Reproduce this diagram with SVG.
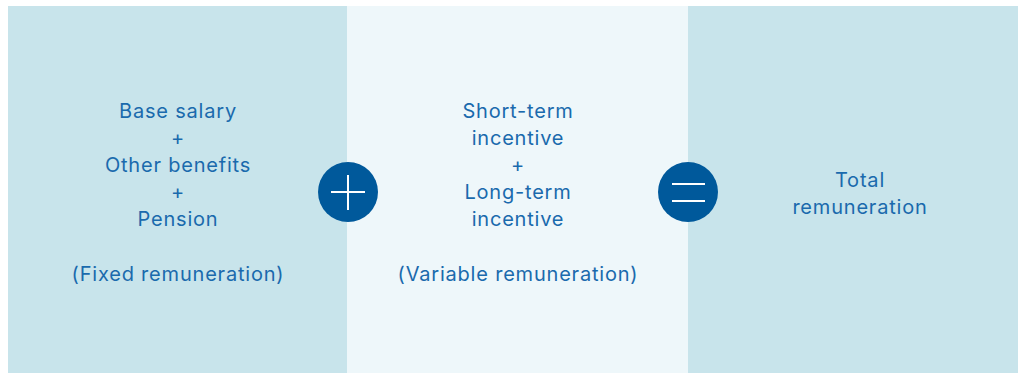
<svg xmlns="http://www.w3.org/2000/svg" width="1018" height="373" viewBox="0 0 1018 373">
<style>
.t{font-family:Inter,"Liberation Sans",sans-serif;font-size:20px;letter-spacing:0.8px;fill:#1a6aad;text-anchor:middle}
.sym{stroke:#ffffff;stroke-width:2;fill:none}
</style>
<rect width="1018" height="373" fill="#ffffff"/>
<g id="fixed">
<rect x="8" y="6" width="339" height="367" fill="#c8e4eb"/>
<text class="t" x="178" y="118">Base salary</text>
<text class="t" x="178" y="145">+</text>
<text class="t" x="178" y="172">Other benefits</text>
<text class="t" x="178" y="199">+</text>
<text class="t" x="178" y="226">Pension</text>
<text class="t" x="178" y="281">(Fixed remuneration)</text>
</g>
<g id="variable">
<rect x="347" y="6" width="341" height="367" fill="#eef7fa"/>
<text class="t" x="518" y="118">Short-term</text>
<text class="t" x="518" y="145">incentive</text>
<text class="t" x="518" y="172">+</text>
<text class="t" x="518" y="199">Long-term</text>
<text class="t" x="518" y="226">incentive</text>
<text class="t" x="518" y="281">(Variable remuneration)</text>
</g>
<g id="total">
<rect x="688" y="6" width="330" height="367" fill="#c8e4eb"/>
<text class="t" x="860" y="187">Total</text>
<text class="t" x="860" y="214">remuneration</text>
</g>
<g id="plus">
<circle cx="348" cy="192" r="30" fill="#00599b"/>
<path class="sym" d="M331 192H365M348 175V210"/>
</g>
<g id="equals">
<circle cx="688" cy="192" r="30" fill="#00599b"/>
<path class="sym" d="M672 184H705M672 201H705"/>
</g>
</svg>
